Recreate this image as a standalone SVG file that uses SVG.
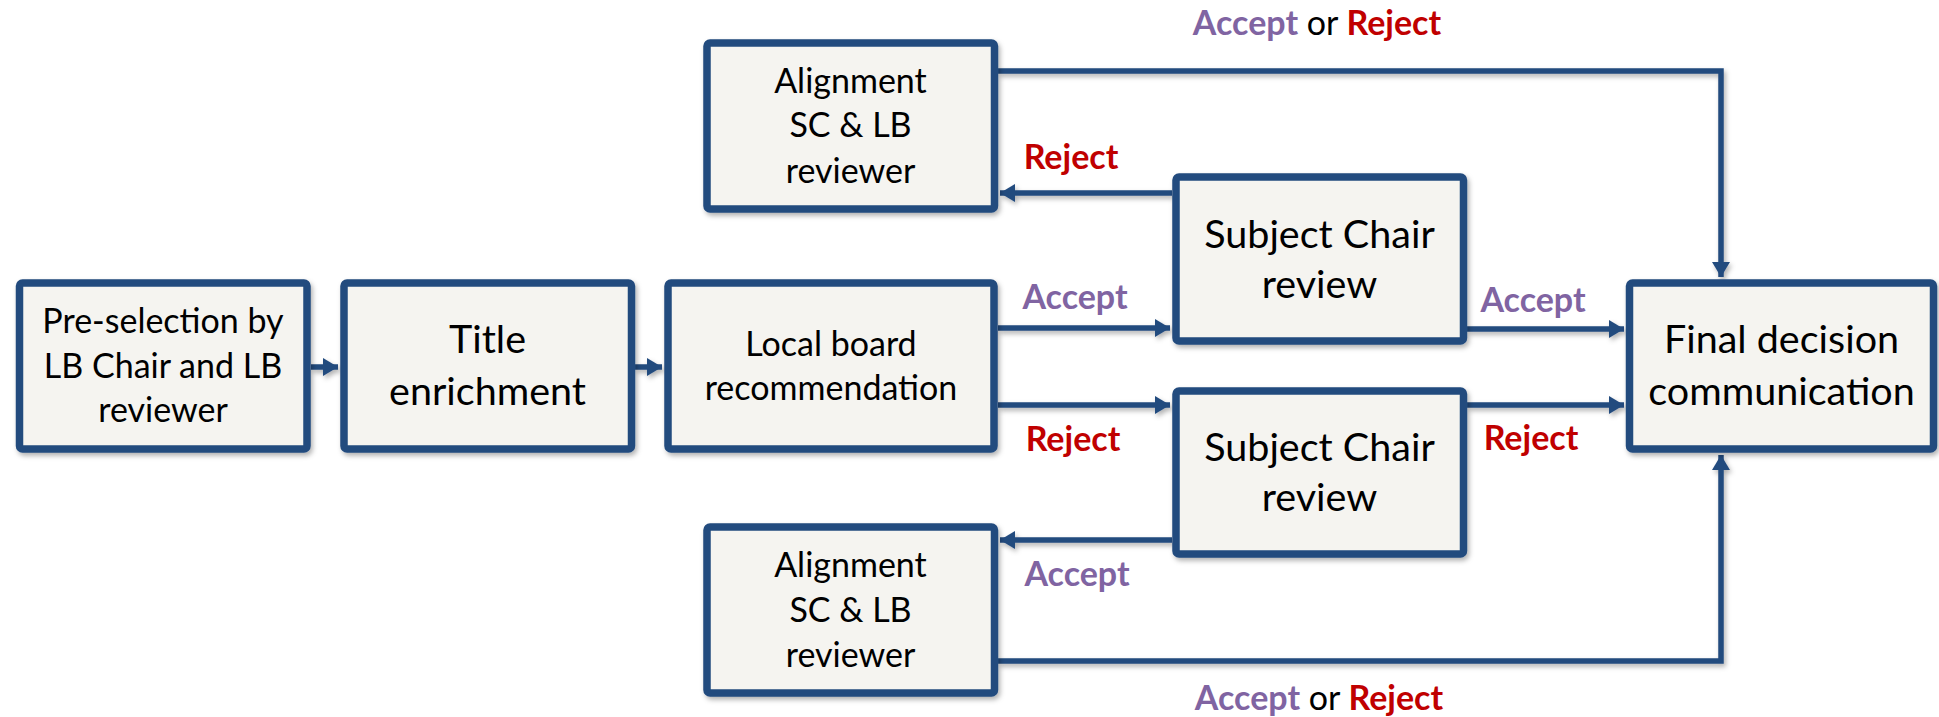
<svg xmlns="http://www.w3.org/2000/svg" width="1939" height="717" viewBox="0 0 1939 717">
<style>
.box{fill:#F5F4F0;stroke:#234B7E;stroke-width:7.5;}
.con{fill:none;stroke:#234B7E;stroke-width:5.5;}
.t{font-family:Lato,"Open Sans",sans-serif;fill:#000;text-anchor:middle;}
.s{font-size:34px;}
.l{font-size:39.5px;}
.lab{font-family:Lato,"Open Sans",sans-serif;font-weight:bold;font-size:34px;text-anchor:middle;}
.acc{fill:#8064A2;}
.rej{fill:#C00000;}
.or{font-weight:normal;fill:#000;}
</style>
<defs>
<filter id="sh" x="-10%" y="-10%" width="120%" height="130%">
<feDropShadow dx="2" dy="3" stdDeviation="2.5" flood-color="#000" flood-opacity="0.3"/>
</filter>
<marker id="arr" markerUnits="userSpaceOnUse" markerWidth="16" markerHeight="20" viewBox="0 0 16 20" refX="15" refY="10" orient="auto">
<path d="M0,1 L15,10 L0,19 Z" fill="#234B7E"/>
</marker>
</defs>

<g id="connectors" filter="url(#sh)">
<path class="con" d="M311,367 H338" marker-end="url(#arr)"/>
<path class="con" d="M635,367 H662" marker-end="url(#arr)"/>
<path class="con" d="M998,328 H1170" marker-end="url(#arr)"/>
<path class="con" d="M998,405 H1170" marker-end="url(#arr)"/>
<path class="con" d="M1172,193 H1000" marker-end="url(#arr)"/>
<path class="con" d="M1467,329 H1624" marker-end="url(#arr)"/>
<path class="con" d="M1467,405 H1624" marker-end="url(#arr)"/>
<path class="con" d="M1172,540 H1000" marker-end="url(#arr)"/>
<path class="con" d="M998,71 H1721 V277" marker-end="url(#arr)"/>
<path class="con" d="M998,661 H1721 V455" marker-end="url(#arr)"/>
</g>

<g id="labels">
<text class="lab" x="1317" y="35"><tspan class="acc">Accept</tspan><tspan class="or"> or </tspan><tspan class="rej">Reject</tspan></text>
<text class="lab rej" x="1071" y="169">Reject</text>
<text class="lab acc" x="1075" y="309">Accept</text>
<text class="lab rej" x="1073" y="451">Reject</text>
<text class="lab acc" x="1077" y="586">Accept</text>
<text class="lab acc" x="1533" y="312">Accept</text>
<text class="lab rej" x="1531" y="450">Reject</text>
<text class="lab" x="1319" y="710"><tspan class="acc">Accept</tspan><tspan class="or"> or </tspan><tspan class="rej">Reject</tspan></text>
</g>

<g id="preselection">
<rect class="box" x="19.5" y="283" width="287.5" height="166" rx="3" filter="url(#sh)"/>
<text class="t s" x="163" y="333">Pre-selection by</text>
<text class="t s" x="163" y="378">LB Chair and LB</text>
<text class="t s" x="163" y="422">reviewer</text>
</g>

<g id="title-enrichment">
<rect class="box" x="344" y="283" width="287.5" height="166" rx="3" filter="url(#sh)"/>
<text class="t l" x="487.5" y="353">Title</text>
<text class="t l" x="487.5" y="405">enrichment</text>
</g>

<g id="local-board">
<rect class="box" x="668" y="283" width="326" height="166" rx="3" filter="url(#sh)"/>
<text class="t s" x="831" y="356">Local board</text>
<text class="t s" x="831" y="400">recommendation</text>
</g>

<g id="alignment-top">
<rect class="box" x="707" y="43" width="287.5" height="166" rx="3" filter="url(#sh)"/>
<text class="t s" x="850.5" y="93">Alignment</text>
<text class="t s" x="850.5" y="137">SC &amp; LB</text>
<text class="t s" x="850.5" y="183">reviewer</text>
</g>

<g id="sc-review-top">
<rect class="box" x="1176" y="177" width="287.5" height="164" rx="3" filter="url(#sh)"/>
<text class="t l" x="1319.5" y="248">Subject Chair</text>
<text class="t l" x="1319.5" y="298">review</text>
</g>

<g id="sc-review-bottom">
<rect class="box" x="1176" y="391" width="287.5" height="163" rx="3" filter="url(#sh)"/>
<text class="t l" x="1319.5" y="461">Subject Chair</text>
<text class="t l" x="1319.5" y="511">review</text>
</g>

<g id="alignment-bottom">
<rect class="box" x="707" y="527" width="287.5" height="166" rx="3" filter="url(#sh)"/>
<text class="t s" x="850.5" y="577">Alignment</text>
<text class="t s" x="850.5" y="622">SC &amp; LB</text>
<text class="t s" x="850.5" y="667">reviewer</text>
</g>

<g id="final-decision">
<rect class="box" x="1629.5" y="283" width="304" height="166" rx="3" filter="url(#sh)"/>
<text class="t l" x="1781.5" y="353">Final decision</text>
<text class="t l" x="1781.5" y="405">communication</text>
</g>
</svg>
